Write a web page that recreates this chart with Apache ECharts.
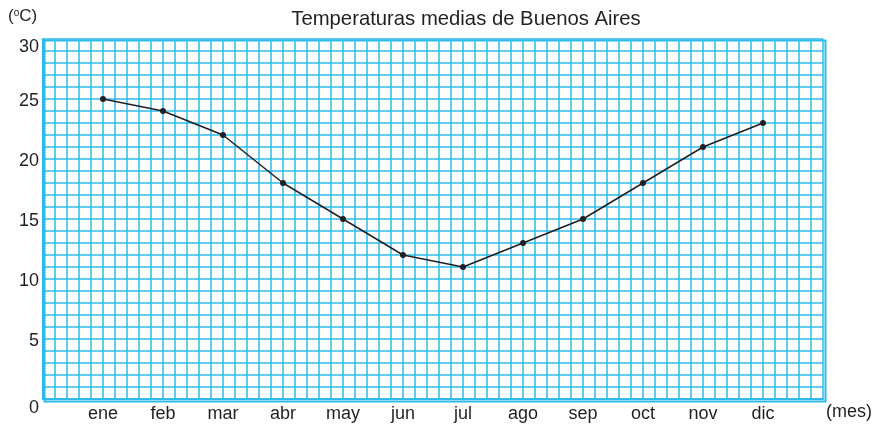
<!DOCTYPE html>
<html>
<head>
<meta charset="utf-8">
<script src="https://cdn.jsdelivr.net/npm/echarts@6/dist/echarts.min.js"></script>
<style>
  html, body { margin: 0; padding: 0; background: #fff; }
  #chart { width: 874px; height: 425px; }
</style>
</head>
<body>
<div id="chart"></div>
<script>
// Monthly mean temperatures for Buenos Aires (°C)
const months = ['ene', 'feb', 'mar', 'abr', 'may', 'jun', 'jul', 'ago', 'sep', 'oct', 'nov', 'dic'];
const temperatures = [25, 24, 22, 18, 15, 12, 11, 13, 15, 18, 21, 23];
const yTicks = [0, 5, 10, 15, 20, 25, 30];

// Each month sits 5 grid cells apart on graph paper that is 65 cells wide
const CELLS_PER_MONTH = 5;
const X_CELLS = 65;

const gridColor = '#2cbaeb';
const font = 'Liberation Sans, Arial, Helvetica, sans-serif';
const ink = '#231f20';

const points = months.map((m, i) => [(i + 1) * CELLS_PER_MONTH, temperatures[i]]);

const chart = echarts.init(document.getElementById('chart'));
chart.setOption({
  animation: false,
  title: {
    text: 'Temperaturas medias de Buenos Aires',
    left: 461, top: 4, textAlign: 'center',
    textStyle: { fontFamily: font, fontSize: 20.3, fontWeight: 'normal', color: ink }
  },
  // 12px graph-paper cells: 65 across, 30 down
  grid: { left: 43, right: 51, top: 39, bottom: 26 },
  xAxis: {
    type: 'value', min: 0, max: X_CELLS, interval: 1,
    axisLine: { show: true, lineStyle: { color: gridColor, width: 2 } },
    axisTick: { show: false },
    splitLine: { show: true, lineStyle: { color: gridColor, width: 1.5 } },
    axisLabel: {
      margin: 6,
      fontFamily: font, fontSize: 18, color: ink,
      showMinLabel: true, showMaxLabel: true,
      formatter: v => {
        const idx = v / CELLS_PER_MONTH - 1;
        return (v % CELLS_PER_MONTH === 0 && idx >= 0 && idx < months.length) ? months[idx] : '';
      }
    }
  },
  yAxis: {
    type: 'value', min: 0, max: 30, interval: 1,
    axisLine: { show: true, lineStyle: { color: gridColor, width: 2 } },
    axisTick: { show: false },
    splitLine: { show: true, lineStyle: { color: gridColor, width: 1.5 } },
    axisLabel: {
      margin: 4,
      fontFamily: font, fontSize: 18, color: ink,
      showMinLabel: true, showMaxLabel: true,
      formatter: v => {
        if (!yTicks.includes(v)) return '';
        if (v === 0) return '{lo|0}';
        if (v === 30) return '{hi|30}';
        return '{n|' + v + '}';
      },
      rich: {
        n: { fontFamily: font, fontSize: 18, color: ink, padding: [4, 0, 0, 0] },
        lo: { fontFamily: font, fontSize: 18, color: ink, padding: [18, 0, 0, 0] },
        hi: { fontFamily: font, fontSize: 18, color: ink, padding: [16, 0, 0, 0] }
      }
    }
  },
  graphic: [
    {
      type: 'rect', left: 42, top: 38, z: 10, silent: true,
      shape: { width: 781, height: 361 },
      style: { fill: 'none', stroke: gridColor, lineWidth: 2 }
    },
    {
      type: 'text', left: 8, top: 8,
      style: {
        text: '({s|o}C)',
        font: '17px ' + font, fill: ink,
        rich: { s: { fontFamily: font, fontSize: 10, fill: ink, verticalAlign: 'top', padding: [0, 0, 7, 0] } }
      }
    },
    {
      type: 'text', left: 826, top: 403,
      style: { text: '(mes)', font: '18px ' + font, fill: ink }
    }
  ],
  series: [{
    type: 'line',
    data: points,
    symbol: 'circle', symbolSize: 6,
    lineStyle: { color: ink, width: 1.5 },
    itemStyle: { color: ink },
    z: 20
  }]
});
</script>
</body>
</html>
